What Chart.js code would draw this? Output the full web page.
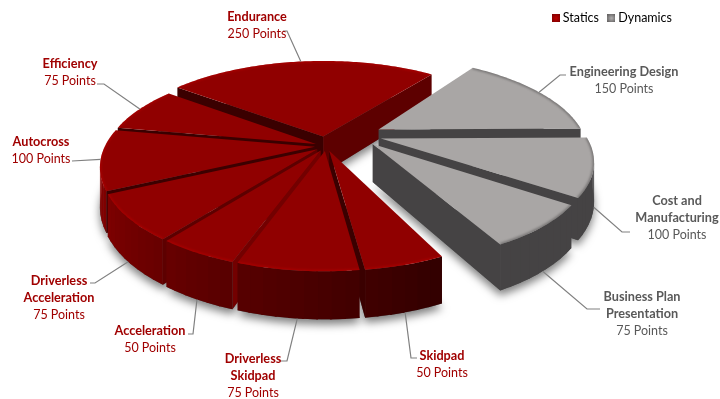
<!DOCTYPE html>
<html>
<head>
<meta charset="utf-8">
<style>
  html, body { margin: 0; background: #fff; }
  canvas { display: block; }
</style>
<script src="https://cdn.jsdelivr.net/npm/chart.js@4/dist/chart.umd.js"></script>
</head>
<body>
<canvas id="points-chart" width="720" height="399"></canvas>
<script>
const categories = ['Endurance', 'Engineering Design', 'Cost and Manufacturing', 'Business Plan Presentation',
	'Skidpad', 'Driverless Skidpad', 'Acceleration', 'Driverless Acceleration', 'Autocross', 'Efficiency'];
const points = [250, 150, 100, 75, 50, 75, 50, 75, 100, 75];
const groups = ['Statics', 'Dynamics', 'Dynamics', 'Dynamics', 'Statics', 'Statics', 'Statics', 'Statics', 'Statics', 'Statics'];
const legendNames = ['Statics', 'Dynamics'];

// how far each wedge is pulled out of the pie, in pixels
const explode = [18, 23, 23, 23, 9, 9, 9, 9, 9, 9];

const topColor = { Statics: '#900000', Dynamics: '#a9a6a5' };
const rimGlow = { Statics: 'rgba(190,0,0,0.5)', Dynamics: 'rgba(70,68,68,0.5)' };
const greySide = '#454344';

// camera for the tilted disc
const view = { cx: 326, cy: 146, rx: 210, ry: 94, persp: 0.2, depth: 38 };
// the dynamics block sits apart from the rest and is turned slightly
const dynamicsShift = { u: 0.138, v: -0.125, turn: -2 * Math.PI / 180 };

// text centre, first baseline and the leader bend, one entry per slice
const labelLayout = [
	{ lines: ['Endurance'], x: 257, y: 21, bend: [287, 31], end: [283, 31], h: 0 },
	{ lines: ['Engineering Design'], x: 624, y: 76, bend: [560, 75], end: [566, 75], h: 0 },
	{ lines: ['Cost and', 'Manufacturing'], x: 677, y: 205, bend: [622, 232], end: [630, 232], h: 1 },
	{ lines: ['Business Plan', 'Presentation'], x: 642, y: 301, bend: [587, 309], end: [600, 309], h: 1 },
	{ lines: ['Skidpad'], x: 442, y: 360, bend: [411, 358], end: [417, 358], h: 1 },
	{ lines: ['Driverless', 'Skidpad'], x: 253, y: 363, bend: [287, 361], end: [281, 361], h: 1 },
	{ lines: ['Acceleration'], x: 150, y: 335, bend: [193, 334], end: [188, 334], h: 1 },
	{ lines: ['Driverless', 'Acceleration'], x: 59, y: 285, bend: [95, 283], end: [90, 283], h: 1 },
	{ lines: ['Autocross'], x: 41, y: 146, bend: [72, 161], end: [72, 161], h: 0 },
	{ lines: ['Efficiency'], x: 70, y: 68, bend: [104, 84], end: [97, 84], h: 0 }
];

let project = function (u, v, h) {
	const s = 1 / (1 - view.persp * v);
	return [view.cx + view.rx * u * s, view.cy + view.ry * v * s + view.depth * h * s];
};

let wedgeOf = function (arc, i) {
	const opts = arc.options;
	const mid = (arc.startAngle + arc.endAngle) / 2;
	const off = opts.offset / arc.outerRadius;
	const shift = groups[i] === 'Dynamics' ? dynamicsShift : { u: 0, v: 0, turn: 0 };
	return {
		index: i,
		group: groups[i],
		start: arc.startAngle + shift.turn,
		end: arc.endAngle + shift.turn,
		mid: mid + shift.turn,
		u: off * Math.cos(mid) + shift.u,
		v: off * Math.sin(mid) + shift.v,
		color: opts.backgroundColor
	};
};

let rimPoint = function (w, a, h) {
	return project(w.u + Math.cos(a), w.v + Math.sin(a), h);
};

let polygon = function (ctx, pts) {
	ctx.beginPath();
	pts.forEach((p, i) => i ? ctx.lineTo(p[0], p[1]) : ctx.moveTo(p[0], p[1]));
	ctx.closePath();
};

let outline = function (w, h) {
	const pts = [project(w.u, w.v, h)];
	const steps = Math.ceil((w.end - w.start) * 60);
	for (let i = 0; i <= steps; i++) {
		pts.push(rimPoint(w, w.start + (w.end - w.start) * i / steps, h));
	}
	return pts;
};

let facesCamera = function (q) {
	let area = 0;
	for (let i = 0; i < q.length; i++) {
		const a = q[i], b = q[(i + 1) % q.length];
		area += a[0] * b[1] - b[0] * a[1];
	}
	return area > 0;
};

let redShade = function (r) {
	const c = Math.round(Math.max(40, Math.min(150, r)));
	return 'rgb(' + c + ',0,0)';
};

// outer wall gets lighter going round towards the left
let rimColor = function (w, a) {
	if (w.group === 'Dynamics') return greySide;
	let deg = a * 180 / Math.PI;
	if (deg < 0) deg += 360;
	return redShade(54 + 0.85 * (deg - 70));
};

// flat cut faces, shaded from the direction they look in
let cutColor = function (w, normal) {
	if (w.group === 'Dynamics') return greySide;
	let deg = normal * 180 / Math.PI;
	deg = ((deg % 360) + 360) % 360;
	return redShade(Math.max(58, 115 - 1.22 * (deg - 19)));
};

let paintQuad = function (ctx, q, color) {
	polygon(ctx, q);
	ctx.fillStyle = color;
	ctx.fill();
};

let paintWedge = function (ctx, w) {
	const c0 = project(w.u, w.v, 0), c1 = project(w.u, w.v, 1);
	const startEdge = [c0, c1, rimPoint(w, w.start, 1), rimPoint(w, w.start, 0)];
	const endEdge = [c0, rimPoint(w, w.end, 0), rimPoint(w, w.end, 1), c1];
	if (facesCamera(startEdge)) paintQuad(ctx, startEdge, cutColor(w, w.start - Math.PI / 2));
	if (facesCamera(endEdge)) paintQuad(ctx, endEdge, cutColor(w, w.end + Math.PI / 2));

	// wall bands overlap the next one a little so no seams show
	const steps = Math.ceil((w.end - w.start) * 18);
	const step = (w.end - w.start) / steps;
	for (let i = 0; i < steps; i++) {
		const a = w.start + step * i;
		const b = Math.min(w.end, a + step * 1.15);
		const q = [rimPoint(w, a, 0), rimPoint(w, a, 1), rimPoint(w, b, 1), rimPoint(w, b, 0)];
		if (facesCamera(q)) paintQuad(ctx, q, rimColor(w, a + step / 2));
	}

	const top = outline(w, 0);
	polygon(ctx, top);
	ctx.fillStyle = w.color;
	ctx.fill();

	// soft bevel along the top edge
	ctx.save();
	polygon(ctx, top);
	ctx.clip();
	ctx.filter = 'blur(1px)';
	ctx.strokeStyle = rimGlow[w.group];
	ctx.lineWidth = 3;
	ctx.beginPath();
	top.slice(1).forEach((p, i) => i ? ctx.lineTo(p[0], p[1]) : ctx.moveTo(p[0], p[1]));
	ctx.stroke();
	ctx.restore();
};

class Pie3DController extends Chart.PieController {
	draw() {
		const ctx = this.chart.ctx;
		const wedges = this._cachedMeta.data.map(wedgeOf);

		ctx.save();
		ctx.shadowColor = 'rgba(0,0,0,0.5)';
		ctx.shadowBlur = 9;
		ctx.shadowOffsetY = 5;
		ctx.fillStyle = '#555';
		wedges.forEach(w => {
			polygon(ctx, outline(w, 1));
			ctx.fill();
		});
		ctx.restore();

		wedges.slice().sort((a, b) => (Math.sin(a.mid) + a.v) - (Math.sin(b.mid) + b.v))
			.forEach(w => paintWedge(ctx, w));
	}
}
Pie3DController.id = 'pie3d';
Pie3DController.defaults = Chart.PieController.defaults;
Chart.register(Pie3DController);

const sliceLabels = {
	id: 'sliceLabels',
	afterDatasetsDraw(chart) {
		const ctx = chart.ctx;
		const wedges = chart.getDatasetMeta(0).data.map(wedgeOf);
		ctx.save();
		ctx.textAlign = 'center';
		ctx.textBaseline = 'alphabetic';
		labelLayout.forEach((item, i) => {
			const w = wedges[i];
			const from = rimPoint(w, w.mid, item.h);
			ctx.beginPath();
			ctx.moveTo(from[0], from[1]);
			ctx.lineTo(item.bend[0], item.bend[1]);
			ctx.lineTo(item.end[0], item.end[1]);
			ctx.strokeStyle = '#808080';
			ctx.lineWidth = 1.2;
			ctx.stroke();

			ctx.fillStyle = groups[i] === 'Statics' ? '#a00000' : '#595959';
			let y = item.y;
			ctx.font = 'bold 12.7px Lato';
			item.lines.forEach(line => {
				ctx.fillText(line, item.x, y);
				y += 17;
			});
			ctx.font = '12.5px Lato';
			ctx.fillText(points[i] + ' Points', item.x, y);
		});
		ctx.restore();
	}
};

// small shaded square for the legend, darker towards its edge
let legendSwatch = function (inner, outer) {
	const c = document.createElement('canvas');
	c.width = 8;
	c.height = 8;
	const g = c.getContext('2d');
	const fill = g.createRadialGradient(4, 4, 0, 4, 4, 5.5);
	fill.addColorStop(0, inner);
	fill.addColorStop(1, outer);
	g.fillStyle = fill;
	g.fillRect(0, 0, 8, 8);
	return c;
};

const swatches = {
	Statics: legendSwatch('#c00000', '#7a0000'),
	Dynamics: legendSwatch('#b5b3b3', '#5c5a5a')
};

const chart = new Chart(document.getElementById('points-chart').getContext('2d'), {
	type: 'pie3d',
	data: {
		labels: categories,
		datasets: [{
			data: points,
			offset: explode,
			borderWidth: 0,
			backgroundColor: groups.map(g => topColor[g])
		}]
	},
	options: {
		responsive: false,
		animation: false,
		events: [],
		rotation: -52.6,
		layout: { padding: { right: 36 } },
		plugins: {
			tooltip: { enabled: false },
			legend: {
				position: 'top',
				align: 'end',
				labels: {
					usePointStyle: true,
					pointStyleWidth: 1,
					boxHeight: 8,
					padding: 12,
					color: '#595959',
					font: { family: 'Lato', size: 12.5 },
					generateLabels() {
						return legendNames.map(name => ({
							text: name,
							pointStyle: swatches[name],
							fillStyle: topColor[name],
							lineWidth: 0
						}));
					}
				}
			}
		}
	},
	plugins: [sliceLabels]
});
</script>
</body>
</html>
